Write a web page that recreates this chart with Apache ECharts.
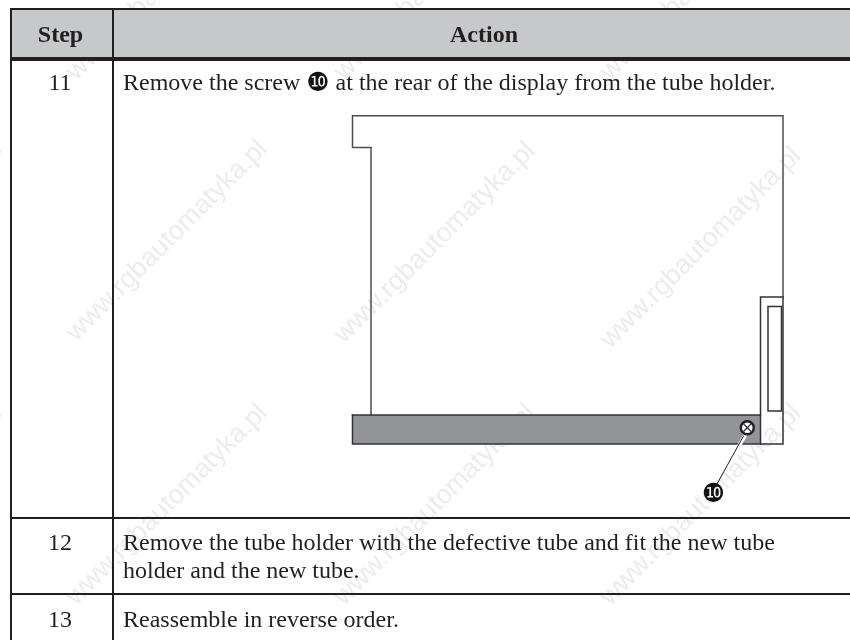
<!DOCTYPE html>
<html>
<head>
    <title></title>
    <meta charset="UTF-8">
    <script type="text/javascript" src="https://cdn.jsdelivr.net/npm/echarts@6/dist/echarts.min.js"></script>
    <style type="text/css">
        html, body { margin: 0; padding: 0; background: #fff; }
        #chart { width: 850px; height: 640px; }
    </style>
</head>
<body>
<div id="chart"></div>

<script type="text/javascript">
    // table content
    var headers = ['Step', 'Action'];
    var steps = ['11', '12', '13'];
    var actionLines = [
        ['Remove the screw ', ' at the rear of the display from the tube holder.'],
        ['Remove the tube holder with the defective tube and fit the new tube'],
        ['holder and the new tube.'],
        ['Reassemble in reverse order.']
    ];
    var calloutMark = '\u277F';
    var watermark = 'www.rgbautomatyka.pl';

    // in page units
    var tableRules = [
        [[10, 9], [850, 9]],
        [[10, 59], [850, 59]],
        [[10, 518], [850, 518]],
        [[10, 594], [850, 594]],
        [[11, 8], [11, 640]],
        [[113, 8], [113, 640]]
    ];
    var housing = [[371, 415], [371, 147.5], [352.5, 147.5], [352.5, 115.7], [783, 115.7], [783, 297]];
    var sideBox = [[783, 297], [760.5, 297], [760.5, 444], [783, 444], [783, 297]];
    var slot = [[768, 306.5], [781.5, 306.5], [781.5, 411], [768, 411], [768, 306.5]];
    var holderBar = [352.5, 415, 760.5, 444];
    var screw = [747.3, 427.7];
    var leader = [[743.5, 436], [717, 484]];

    var chart = echarts.init(document.getElementById('chart'));
    var serif = '"Liberation Serif", "DejaVu Sans"';
    var ink = '#231f20';

    function lineSeries(points, color, width, z, cap) {
        return {
            type: 'line', data: points, showSymbol: false, silent: true, animation: false, z: z,
            lineStyle: { color: color, width: width, cap: cap || 'square', join: 'miter' }
        };
    }

    var texts = [
        { x: 60.5, y: 36, text: headers[0], bold: true },
        { x: 484, y: 36, text: headers[1], bold: true },
        { x: 60, y: 84, text: steps[0] },
        { x: 60, y: 544, text: steps[1] },
        { x: 60, y: 621, text: steps[2] },
        { x: 123, y: 84, rich: actionLines[0], left: true },
        { x: 123, y: 544, text: actionLines[1][0], left: true },
        { x: 123, y: 572, text: actionLines[2][0], left: true },
        { x: 123, y: 621, text: actionLines[3][0], left: true }
    ];

    var markCenters = [[-98, -20], [167, -20], [435, -20], [701, -20],
        [-98, 241], [167, 241], [435, 243], [701, 248],
        [-98, 505], [167, 505], [435, 505], [701, 505]];

    var option = {
        animation: false,
        grid: { left: 0, right: 0, top: 0, bottom: 0 },
        xAxis: { type: 'value', min: 0, max: 850, show: false },
        yAxis: { type: 'value', min: 0, max: 640, inverse: true, show: false },
        series: [
            {
                // watermark
                type: 'custom', z: 1, silent: true, clip: false,
                data: markCenters,
                renderItem: function (params, api) {
                    var p = api.coord([api.value(0), api.value(1)]);
                    return {
                        type: 'text', x: p[0], y: p[1], rotation: Math.PI / 4,
                        style: {
                            text: watermark, fill: '#ececec', align: 'center', verticalAlign: 'middle',
                            font: '27px "Liberation Sans"'
                        }
                    };
                }
            },
            {
                // header band and the grey holder bar
                type: 'custom', z: 2, silent: true,
                data: [[0, 9, 850, 59, '#c6c8ca', 11], holderBar.concat(['#929497', 0])],
                renderItem: function (params, api) {
                    var a = api.coord([api.value(0), api.value(1)]);
                    var b = api.coord([api.value(2), api.value(3)]);
                    var x0 = Math.max(a[0], api.value(5));
                    return {
                        type: 'rect',
                        shape: { x: x0, y: a[1], width: b[0] - x0, height: b[1] - a[1] },
                        style: { fill: api.value(4) }
                    };
                },
                encode: { x: [0, 2], y: [1, 3] },
                dimensions: [null, null, null, null, { name: 'c', type: 'ordinal' }, null]
            }
        ].concat(tableRules.map(function (r) {
            return lineSeries(r, ink, r[0][1] === 59 ? 4 : 2, 5, 'butt');
        })).concat([
            lineSeries(housing, '#4d4d4f', 1.5, 4),
            lineSeries(sideBox, '#333335', 1.5, 4),
            lineSeries(slot, '#333335', 1.5, 4),
            lineSeries([[352.5, 415], [760.5, 415]], '#333335', 1.5, 4),
            lineSeries([[352.5, 415], [352.5, 444], [760.5, 444]], '#333335', 1.5, 4),
            lineSeries([[747, 432], [735, 453]], '#ffffff', 4, 5),
            lineSeries(leader, ink, 1, 6),
            {
                // the screw head
                type: 'custom', z: 7, silent: true,
                data: [screw],
                renderItem: function (params, api) {
                    var p = api.coord([api.value(0), api.value(1)]);
                    var d = 3.8;
                    return {
                        type: 'group', children: [
                            { type: 'circle', shape: { cx: p[0], cy: p[1], r: 6.5 }, style: { fill: '#fff', stroke: ink, lineWidth: 2.4 } },
                            { type: 'line', shape: { x1: p[0] - d, y1: p[1] - d, x2: p[0] + d, y2: p[1] + d }, style: { stroke: ink, lineWidth: 1.2 } },
                            { type: 'line', shape: { x1: p[0] - d, y1: p[1] + d, x2: p[0] + d, y2: p[1] - d }, style: { stroke: ink, lineWidth: 1.2 } }
                        ]
                    };
                }
            },
            {
                // callout mark below the screw
                type: 'custom', z: 8, silent: true,
                data: [[713.5, 495.5]],
                renderItem: function (params, api) {
                    var p = api.coord([api.value(0), api.value(1)]);
                    return {
                        type: 'text', x: p[0], y: p[1],
                        style: { text: calloutMark, fill: '#111', align: 'center', verticalAlign: 'middle', font: '26px "DejaVu Sans"' }
                    };
                }
            },
            {
                // all table text
                type: 'custom', z: 9, silent: true,
                data: texts.map(function (t) { return [t.x, t.y]; }),
                renderItem: function (params, api) {
                    var t = texts[params.dataIndex];
                    var p = api.coord([api.value(0), api.value(1)]);
                    var style = {
                        fill: ink, align: t.left ? 'left' : 'center', verticalAlign: 'middle',
                        font: (t.bold ? 'bold 24px ' : '24px ') + serif
                    };
                    if (t.rich) {
                        style.text = '{a|' + t.rich[0] + '}{m|' + calloutMark + '}{a|' + t.rich[1] + '}';
                        style.rich = {
                            a: { font: '24px ' + serif, fill: ink },
                            m: { font: '26px "DejaVu Sans"', fill: '#111' }
                        };
                    } else {
                        style.text = t.text;
                    }
                    return { type: 'text', x: p[0], y: p[1], style: style };
                }
            }
        ])
    };
    chart.setOption(option);
</script>

</body>
</html>
